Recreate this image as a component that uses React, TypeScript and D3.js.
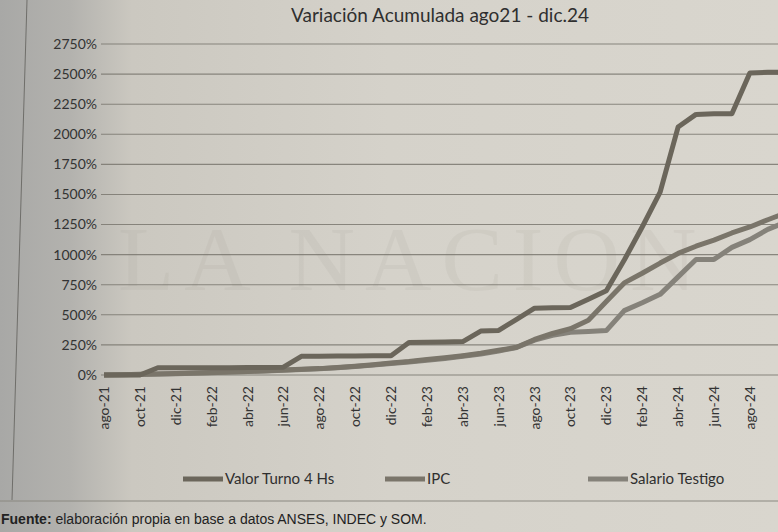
import React from "react";
import * as d3 from "d3";

const months = [
  "ago-21","sep-21","oct-21","nov-21","dic-21","ene-22","feb-22","mar-22","abr-22","may-22","jun-22","jul-22",
  "ago-22","sep-22","oct-22","nov-22","dic-22","ene-23","feb-23","mar-23","abr-23","may-23","jun-23","jul-23",
  "ago-23","sep-23","oct-23","nov-23","dic-23","ene-24","feb-24","mar-24","abr-24","may-24","jun-24","jul-24",
  "ago-24","sep-24","oct-24","nov-24","dic-24",
];

const tickLabels = months.filter((_, i) => i % 2 === 0);
const yTicks = [0, 250, 500, 750, 1000, 1250, 1500, 1750, 2000, 2250, 2500, 2750];

const valorTurno = [
  0, 0, 0, 60, 60, 60, 60, 60, 62, 63, 65, 155, 155, 157, 158, 160, 160, 270, 272, 275, 278, 365, 370, 463,
  555, 558, 560, 630, 700, 955, 1230, 1520, 2060, 2165, 2170, 2170, 2510, 2515, 2515,
];
const ipc = [
  0, 3, 6, 9, 12, 16, 20, 25, 30, 36, 42, 48, 53, 62, 72, 85, 100, 112, 128, 143, 160, 180, 205, 230,
  295, 345, 385, 455, 610, 765, 845, 930, 1010, 1070, 1120, 1180, 1230, 1290, 1345,
];
const salarioTestigo = [
  0, 2, 5, 8, 11, 15, 19, 24, 29, 34, 40, 46, 52, 60, 70, 82, 95, 108, 122, 138, 155, 175, 200, 228,
  290, 330, 355, 362, 369, 535, 600, 670, 815, 960, 960, 1060, 1125, 1210, 1270,
];

const seriesNames = ["Valor Turno 4 Hs", "IPC", "Salario Testigo"];
const seriesColors = ["#6b665b", "#7a756a", "#85827a"];

const W = 778;
const H = 532;

export default function App() {
  const x = d3.scalePoint<string>().domain(months).range([104, 104 + 17.94 * 40]);
  const y = d3.scaleLinear().domain([0, 2750]).range([375, 44]);
  const series = [valorTurno, ipc, salarioTestigo];
  const line = d3
    .line<number>()
    .x((_, i) => x(months[i]) as number)
    .y((d) => y(d));

  const legendX = [183, 385, 588];
  const font = "Lato, 'Open Sans', sans-serif";

  return (
    <svg
      width={W}
      height={H}
      style={{ position: "absolute", left: 0, top: 0, display: "block" }}
      viewBox={`0 0 ${W} ${H}`}
    >
      <defs>
        <linearGradient id="paper" x1="0" x2="1" y1="0" y2="0">
          <stop offset="0" stopColor="#a8a8a6" />
          <stop offset="0.09" stopColor="#b3b2ae" />
          <stop offset="0.17" stopColor="#cbc8c0" />
          <stop offset="0.5" stopColor="#d5d2ca" />
          <stop offset="1" stopColor="#d9d6ce" />
        </linearGradient>
      </defs>
      <rect x={0} y={0} width={W} height={H} fill="url(#paper)" />

      {/* frame */}
      <line x1={27} y1={0} x2={12} y2={500} stroke="#6f6e6a" strokeWidth={1} />
      <line x1={0} y1={501} x2={W} y2={501} stroke="#8a8880" strokeWidth={1} />

      {/* title */}
      <text x={440} y={22} textAnchor="middle" fontFamily={font} fontSize={19} fill="#2f2f2f">
        Variación Acumulada ago21 - dic.24
      </text>

      {/* watermark */}
      <text
        x={118}
        y={290}
        fontFamily="'Liberation Serif', 'DejaVu Serif', serif"
        fontSize={92}
        letterSpacing={10}
        fill="#8e8a80"
        opacity={0.09}
      >
        LA NACION
      </text>

      {/* gridlines */}
      {yTicks.map((t) => (
        <line key={t} x1={101} x2={W} y1={y(t)} y2={y(t)} stroke="#7b7870" strokeWidth={1.1} opacity={0.85} />
      ))}

      {/* y labels */}
      {yTicks.map((t) => (
        <text
          key={t}
          x={97}
          y={y(t)}
          dy="0.35em"
          textAnchor="end"
          fontFamily={font}
          fontSize={14}
          fill="#333"
        >
          {t}%
        </text>
      ))}

      {/* x labels */}
      {tickLabels.map((m) => (
        <text
          key={m}
          transform={`translate(${(x(m) as number) + 5},386) rotate(-90)`}
          textAnchor="end"
          fontFamily={font}
          fontSize={14}
          fill="#333"
        >
          {m}
        </text>
      ))}

      {/* series (drawn so the top line sits above) */}
      {[2, 1, 0].map((k) => (
        <path
          key={k}
          d={line(series[k]) || ""}
          fill="none"
          stroke={seriesColors[k]}
          strokeWidth={5}
          strokeLinejoin="round"
        />
      ))}

      {/* legend */}
      {seriesNames.map((n, k) => (
        <g key={n}>
          <line
            x1={legendX[k]}
            x2={legendX[k] + 40}
            y1={479}
            y2={479}
            stroke={seriesColors[k]}
            strokeWidth={5}
          />
          <text x={legendX[k] + 42} y={479} dy="0.35em" fontFamily={font} fontSize={15} fill="#2f2f2f">
            {n}
          </text>
        </g>
      ))}

      {/* source */}
      <text x={1} y={524} fontFamily="'Liberation Sans', Arial, sans-serif" fontSize={14} fill="#222">
        <tspan fontWeight="bold">Fuente:</tspan> elaboración propia en base a datos ANSES, INDEC y SOM.
      </text>
    </svg>
  );
}
